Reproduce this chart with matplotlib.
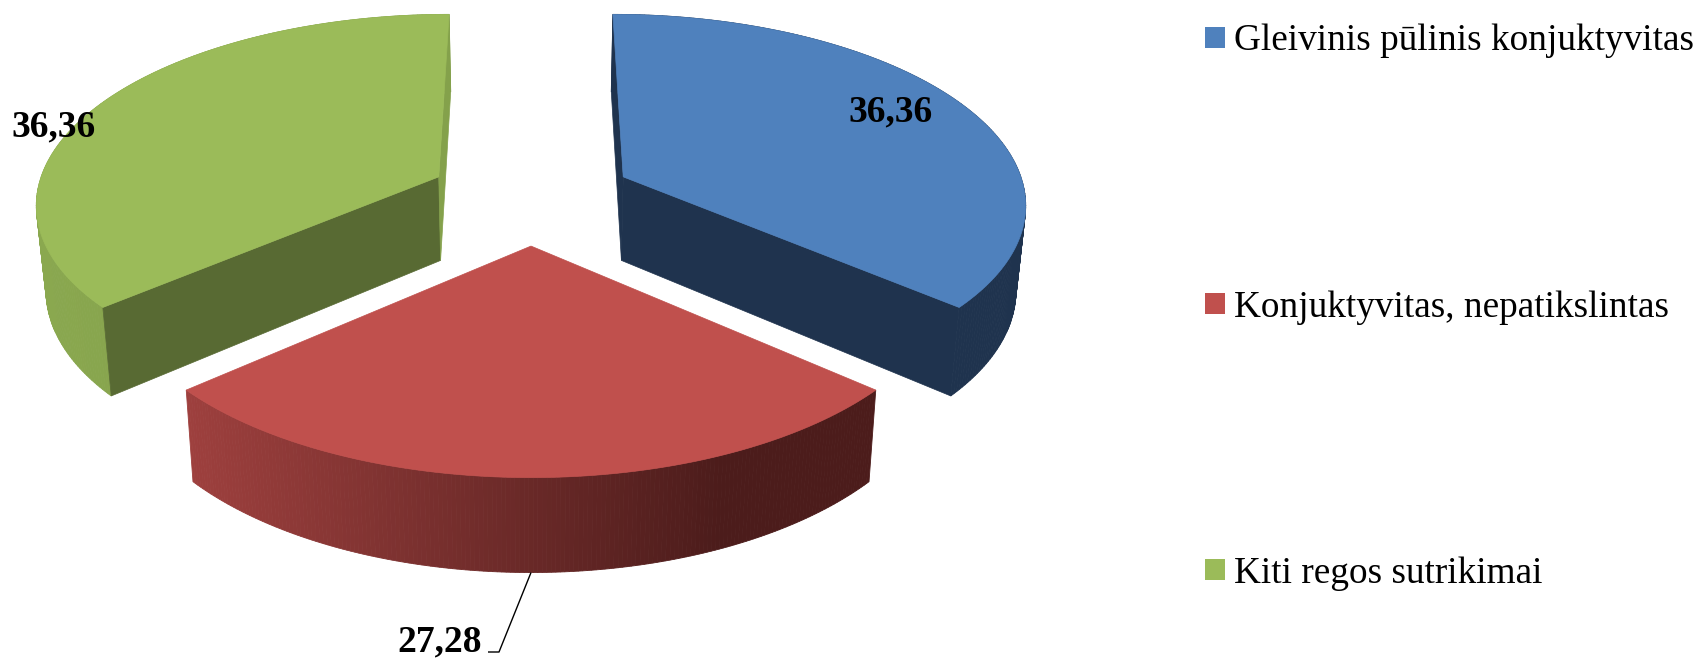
import numpy as np
import matplotlib
matplotlib.use("Agg")
import matplotlib.pyplot as plt
from matplotlib.patches import Polygon, Patch
from matplotlib.colors import to_rgb

categories = ["Gleivinis pūlinis konjuktyvitas", "Konjuktyvitas, nepatikslintas", "Kiti regos sutrikimai"]
values = [36.36, 27.28, 36.36]
value_labels = ["36,36", "27,28", "36,36"]

top_colors = ["#4F81BD", "#C0504D", "#9BBB59"]
start_face_colors = ["#1F334E", None, "#586A33"]
end_face_colors = ["#1F334E", None, "#84A14B"]
wall_left = ["#1F334E", "#9E403E", "#8AA84F"]
wall_right = ["#1F334E", "#4C1C1B", "#7F9B49"]

W, H = 1700, 658
X0, Y0, A, B, D, K, L, EXPL = 531.0, 196.5, 403.0, 188.0, 86.0, 0.128, 0.02, 0.255


def project(x, y, h=0.0):
    w = (1 + K * y) * (1 + L * h)
    return X0 + A * x / w, Y0 + (-B * y + D * h) / w


fig = plt.figure(figsize=(W / 100, H / 100), dpi=100, facecolor="white")
ax = fig.add_axes([0, 0, 1, 1])
ax.set_xlim(0, W)
ax.set_ylim(H, 0)
ax.axis("off")


def lerp(c1, c2, t):
    a, b = np.array(to_rgb(c1)), np.array(to_rgb(c2))
    return tuple(a + (b - a) * t)


def draw_slice(t1, t2, top, face1, face2, wl, wr):
    mid = (t1 + t2) / 2
    ox, oy = EXPL * np.sin(mid), EXPL * np.cos(mid)
    th = np.linspace(t1, t2, 180)
    xs, ys = ox + np.sin(th), oy + np.cos(th)
    tx, ty = project(xs, ys, 0)
    bx, by = project(xs, ys, 1)
    # outer wall, shaded by its screen position
    lo, hi = tx.min(), tx.min() + 0.78 * (tx.max() - tx.min())
    for i in range(len(th) - 1):
        c = lerp(wl, wr, np.clip((tx[i] - lo) / (hi - lo), 0, 1))
        ax.add_patch(Polygon([(tx[i], ty[i]), (tx[i + 1], ty[i + 1]), (bx[i + 1], by[i + 1]), (bx[i], by[i])],
                             closed=True, fc=c, ec=c, lw=0.6, zorder=2))
    # cut faces that can be seen
    ax0, ay0 = project(ox, oy, 0)
    ax1, ay1 = project(ox, oy, 1)
    for j, fc in ((0, face1), (-1, face2)):
        if fc is not None:
            ax.add_patch(Polygon([(ax0, ay0), (tx[j], ty[j]), (bx[j], by[j]), (ax1, ay1)],
                                 closed=True, fc=fc, ec=fc, lw=0.5, zorder=3))
    # top surface
    ax.add_patch(Polygon(np.r_[[[ax0, ay0]], np.c_[tx, ty]], closed=True, fc=top, ec=top, lw=0.5, zorder=4))


total = sum(values)
start = 0.0
for v, top, f1, f2, wl, wr in zip(values, top_colors, start_face_colors, end_face_colors, wall_left, wall_right):
    end = start + 2 * np.pi * v / total
    draw_slice(start, end, top, f1, f2, wl, wr)
    start = end

# data labels
label_font = dict(family="Liberation Serif", fontsize=27, fontweight="bold", color="black",
                  ha="center", va="center", zorder=6)
ax.text(891, 112, value_labels[0], **label_font)
ax.text(440, 641.5, value_labels[1], **label_font)
ax.text(54, 126.5, value_labels[2], **label_font)

# leader line of the middle slice, from the lowest point of its outer wall
lx, ly = project(0.0, -EXPL - 1, 1)
ax.plot([lx, 499, 488], [ly, 652, 652], color="black", lw=1.0, zorder=5, solid_capstyle="butt")

# legend
handles = [Patch(fc=c, ec="none") for c in top_colors]
ax.legend(handles, categories, loc="upper left", bbox_to_anchor=(1205 / W, 1 - 24 / H),
          bbox_transform=fig.transFigure, frameon=False, borderpad=0, borderaxespad=0,
          prop={"family": "Liberation Serif", "size": 26.8},
          handlelength=0.537, handleheight=0.497, handletextpad=0.243, labelspacing=6.22)

fig.savefig("out.png", dpi=100, facecolor="white")
